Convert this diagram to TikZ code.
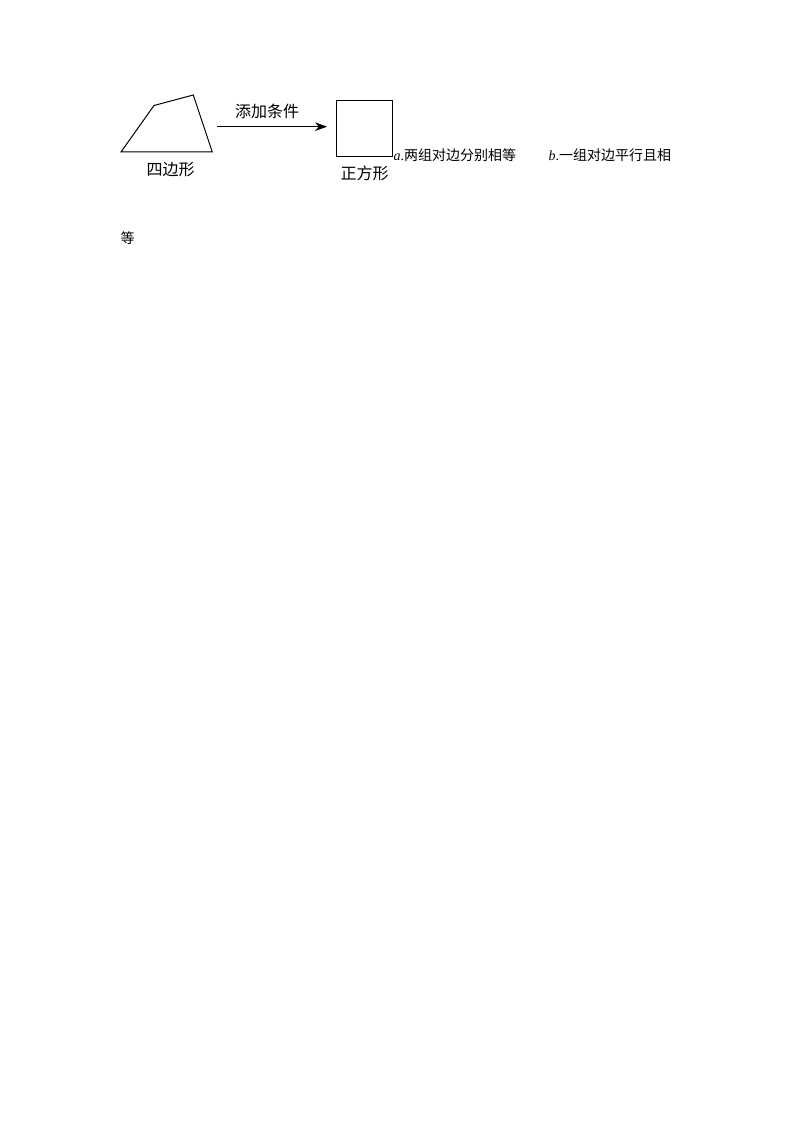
\documentclass[tikz,border=0pt]{standalone}
\usepackage{fontspec}
\setmainfont{Liberation Serif}
\newfontfamily\cjk{Noto Sans CJK SC}
\usetikzlibrary{arrows.meta}

\begin{document}
\begin{tikzpicture}[x=0.75pt, y=-0.75pt, line width=0.75pt]
    \useasboundingbox (0, 0) rectangle (794, 1123);

    \draw (121, 152) -- (154, 105.5) -- (193.3, 95) -- (212.3, 152) -- cycle;
    \draw (336, 100.7) -- (392.7, 100.7) -- (392.7, 156.7) -- (336, 156.7) -- cycle;

    \coordinate (arrowfrom) at (217.3, 126.7);
    \coordinate (arrowto) at (327, 126.7);
    \draw[-{Stealth[length=9pt, width=6.5pt]}] (arrowfrom) -- (arrowto);

    \node[inner sep=0] (cond) at (267, 111) {{\cjk\fontsize{12pt}{14pt}\selectfont 添加条件}};
    \node[inner sep=0] (quad) at (170.5, 170) {{\cjk\fontsize{12pt}{14pt}\selectfont 四边形}};
    \node[inner sep=0] (square) at (364.5, 173) {{\cjk\fontsize{12pt}{14pt}\selectfont 正方形}};

    \node[inner sep=0, anchor=west] (opta) at (393, 155.5) {{\fontsize{10.5pt}{12pt}\selectfont\textit{a}.\cjk 两组对边分别相等}};
    \node[inner sep=0, anchor=west] (optb) at (548, 155.5) {{\fontsize{10.5pt}{12pt}\selectfont\textit{b}.\cjk 一组对边平行且相}};
    \node[inner sep=0, anchor=west] (optrest) at (120, 238) {{\cjk\fontsize{10.5pt}{12pt}\selectfont 等}};

\end{tikzpicture}
\end{document}
